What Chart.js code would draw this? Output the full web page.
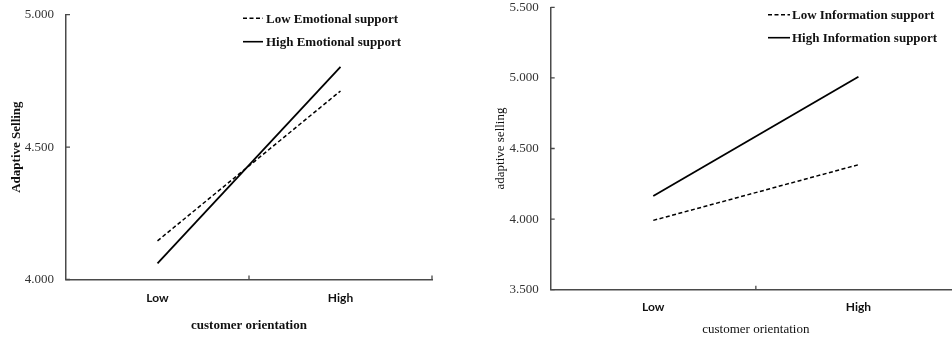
<!DOCTYPE html>
<html>
<head>
<meta charset="utf-8">
<script src="https://cdn.jsdelivr.net/npm/chart.js@4"></script>
<style>
html, body { margin: 0; padding: 0; background: #fff; overflow: hidden; width: 952px; height: 337px; }
canvas { position: absolute; top: 0; }
#c1 { left: 0; }
#c2 { left: 480px; }
</style>
</head>
<body>
<canvas id="c1" width="476" height="337"></canvas>
<canvas id="c2" width="481" height="337"></canvas>
<script>
// data
var levels = ['Low', 'High'];
var lowEmotional = [4.146, 4.712];
var highEmotional = [4.061, 4.803];
var lowInformation = [3.991, 4.385];
var highInformation = [4.164, 5.008];
var ticksLeft = [4.0, 4.5, 5.0];
var ticksRight = [3.5, 4.0, 4.5, 5.0, 5.5];

var axisColor = '#4a4a4a';
var serif = '"Liberation Serif", "Times New Roman", serif';

// short inside ticks + small legend in the upper right corner
var extras = {
    id: 'extras',
    afterDraw: function(chart, args, opts){
        var ctx = chart.ctx, x = chart.scales.x, y = chart.scales.y;
        ctx.save();
        ctx.strokeStyle = axisColor;
        ctx.lineWidth = 1.3;
        ctx.beginPath();
        y.ticks.forEach(function(t){
            var py = y.getPixelForValue(t.value);
            ctx.moveTo(x.left, py); ctx.lineTo(x.left + 4, py);
        });
        for (var i = 0; i < levels.length; i++){
            var px = x.getPixelForValue(i + 0.5);
            ctx.moveTo(px, y.bottom); ctx.lineTo(px, y.bottom - 4);
        }
        ctx.stroke();

        ctx.font = 'bold 13px ' + serif;
        ctx.fillStyle = '#111';
        ctx.textBaseline = 'middle';
        chart.data.datasets.forEach(function(ds, k){
            var ly = opts.rows[k];
            ctx.beginPath();
            ctx.strokeStyle = '#000';
            ctx.lineWidth = 1.6;
            ctx.setLineDash(ds.borderDash || []);
            ctx.moveTo(opts.x1, ly); ctx.lineTo(opts.x2, ly);
            ctx.stroke();
            ctx.setLineDash([]);
            ctx.fillText(ds.label, opts.tx, ly + 1);
        });
        ctx.restore();
    }
};

function makeChart(id, lowData, highData, lowLabel, highLabel, yTicks, cfg){
    return new Chart(document.getElementById(id), {
        type: 'line',
        data: {
            labels: levels,
            datasets: [{
                label: lowLabel,
                data: lowData,
                borderColor: '#000',
                borderWidth: 1.5,
                borderDash: [4, 2.5],
                pointRadius: 0,
                fill: false
            }, {
                label: highLabel,
                data: highData,
                borderColor: '#000',
                borderWidth: 1.8,
                pointRadius: 0,
                fill: false
            }]
        },
        options: {
            responsive: false,
            animation: false,
            layout: { padding: { left: 0, right: cfg.padRight, top: cfg.padTop, bottom: 0 } },
            plugins: {
                legend: { display: false },
                tooltip: { enabled: false },
                extras: cfg.legend
            },
            scales: {
                x: {
                    offset: true,
                    grid: { display: true, offset: true, drawOnChartArea: false, drawTicks: false },
                    border: { color: axisColor, width: 1.5 },
                    ticks: { padding: cfg.xTickPad, color: '#111', font: { family: 'Lato', weight: 'bold', size: 12 } },
                    title: {
                        display: true, text: 'customer orientation', color: '#111',
                        padding: { top: 0, bottom: cfg.xTitlePad },
                        font: { family: serif, weight: cfg.titleWeight, size: 13 }
                    },
                    afterFit: function(s){ s.height = cfg.xHeight; }
                },
                y: {
                    min: yTicks[0],
                    max: yTicks[yTicks.length - 1],
                    afterBuildTicks: function(s){ s.ticks = yTicks.map(function(v){ return { value: v }; }); },
                    grid: { display: true, drawOnChartArea: false, drawTicks: false },
                    border: { color: axisColor, width: 1.5 },
                    ticks: {
                        padding: 12, color: '#333',
                        font: { family: serif, size: 13 },
                        callback: function(v){ return Number(v).toFixed(3); }
                    },
                    title: {
                        display: true, text: cfg.yTitle, color: '#111',
                        padding: { top: cfg.yTitlePad, bottom: 0 },
                        font: { family: serif, weight: cfg.titleWeight, size: 13 }
                    },
                    afterFit: function(s){
                        s.width = cfg.yWidth;
                        // tick padding would otherwise push the plot top down
                        s.paddingTop = 0;
                        s.paddingBottom = 0;
                    }
                }
            }
        },
        plugins: [extras]
    });
}

makeChart('c1', lowEmotional, highEmotional, 'Low Emotional support', 'High Emotional support', ticksLeft, {
    padRight: 44, padTop: 14.7, xHeight: 57.5, xTickPad: 11, xTitlePad: 3.5,
    yWidth: 66, yTitlePad: 9, yTitle: 'Adaptive Selling', titleWeight: 'bold',
    legend: { x1: 243, x2: 263, tx: 266, rows: [18.3, 41.7] }
});

makeChart('c2', lowInformation, highInformation, 'Low Information support', 'High Information support', ticksRight, {
    padRight: 0, padTop: 7.3, xHeight: 47.3, xTickPad: 10, xTitlePad: 0,
    yWidth: 70.7, yTitlePad: 13, yTitle: 'adaptive selling', titleWeight: 'normal',
    legend: { x1: 288, x2: 310, tx: 312, rows: [14.7, 37.7] }
});
</script>
</body>
</html>
